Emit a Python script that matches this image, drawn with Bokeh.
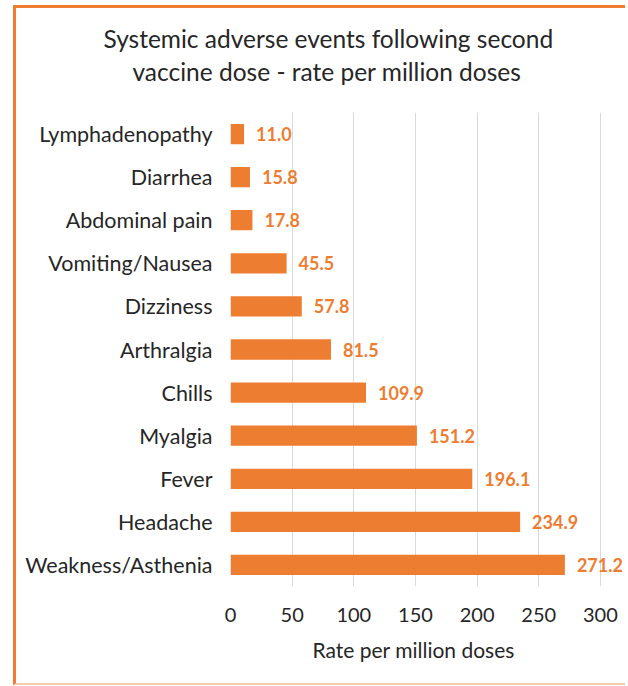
from bokeh.plotting import figure
from bokeh.models import Range1d, FactorRange, FixedTicker, Title, ColumnDataSource
from bokeh.core.properties import value
from bokeh.embed import file_html
from bokeh.resources import INLINE

# ---- data (top to bottom as shown) ----
categories = ["Lymphadenopathy", "Diarrhea", "Abdominal pain", "Vomiting/Nausea",
              "Dizziness", "Arthralgia", "Chills", "Myalgia", "Fever", "Headache",
              "Weakness/Asthenia"]
rates = [11.0, 15.8, 17.8, 45.5, 57.8, 81.5, 109.9, 151.2, 196.1, 234.9, 271.2]
rate_labels = ["11.0", "15.8", "17.8", "45.5", "57.8", "81.5", "109.9", "151.2",
               "196.1", "234.9", "271.2"]
x_ticks = [0, 50, 100, 150, 200, 250, 300]
title_lines = ["Systemic adverse events following second",
               "vaccine dose - rate per million doses"]
x_title = "Rate per million doses"

ORANGE = "#ED7D31"
TEXT = "#262626"
GRID = "#D9D9D9"
FONT = "Lato"

factors = list(reversed(categories))  # first factor at bottom

p = figure(width=612, height=680, output_backend="svg", toolbar_location=None,
           title=None,
           y_range=FactorRange(*factors, range_padding=0),
           x_range=Range1d(0, 322.8),
           min_border_left=214, min_border_right=0, min_border_top=104,
           min_border_bottom=102)
p.styles = {"border-top": "3px solid #ED7D31", "border-left": "3px solid #ED7D31",
            "border-bottom": "2px solid #F8CBAD", "margin-left": "13px",
            "margin-top": "5px"}
p.outline_line_color = None
p.background_fill_color = "white"
p.border_fill_color = "white"

src = ColumnDataSource(dict(cat=categories, rate=rates, lab=rate_labels))
p.hbar(y="cat", right="rate", left=0, height=0.47, source=src,
       fill_color=ORANGE, line_color=None)
p.text(x="rate", y="cat", text="lab", source=src, x_offset=12,
       text_baseline="middle", text_align="left", text_color=ORANGE,
       text_font=value(FONT), text_font_style="bold", text_font_size="18px")

# axes
p.xaxis.ticker = FixedTicker(ticks=x_ticks)
p.xaxis.axis_line_color = None
p.xaxis.major_tick_in = 0
p.xaxis.major_tick_out = 0
p.xaxis.major_tick_line_color = None
p.xaxis.minor_tick_line_color = None
p.xaxis.major_label_standoff = 21
p.xaxis.major_label_text_font = FONT
p.xaxis.major_label_text_font_size = "20px"
p.xaxis.major_label_text_color = TEXT

p.yaxis.axis_line_color = None
p.yaxis.major_tick_line_color = None
p.yaxis.major_tick_in = 0
p.yaxis.major_tick_out = 0
p.yaxis.major_label_standoff = 18
p.yaxis.major_label_text_font = FONT
p.yaxis.major_label_text_font_size = "21.5px"
p.yaxis.major_label_text_color = TEXT

p.ygrid.grid_line_color = None
p.xgrid.grid_line_color = GRID
p.xgrid.ticker = FixedTicker(ticks=x_ticks)

# titles (first added sits nearest the plot frame)
p.add_layout(Title(text=" ", text_font_size="2px", standoff=21), "above")
p.add_layout(Title(text=title_lines[1], align="left", offset=-98, standoff=4,
                   text_font=FONT, text_font_size="24.5px", text_font_style="normal",
                   text_color=TEXT), "above")
p.add_layout(Title(text=title_lines[0], align="left", offset=-127, standoff=0,
                   text_font=FONT, text_font_size="24.5px", text_font_style="normal",
                   text_color=TEXT), "above")
p.add_layout(Title(text=x_title, align="left", offset=82, standoff=20,
                   text_font=FONT, text_font_size="21px", text_font_style="normal",
                   text_color=TEXT), "below")

open("out.html", "w").write(file_html(p, INLINE))
